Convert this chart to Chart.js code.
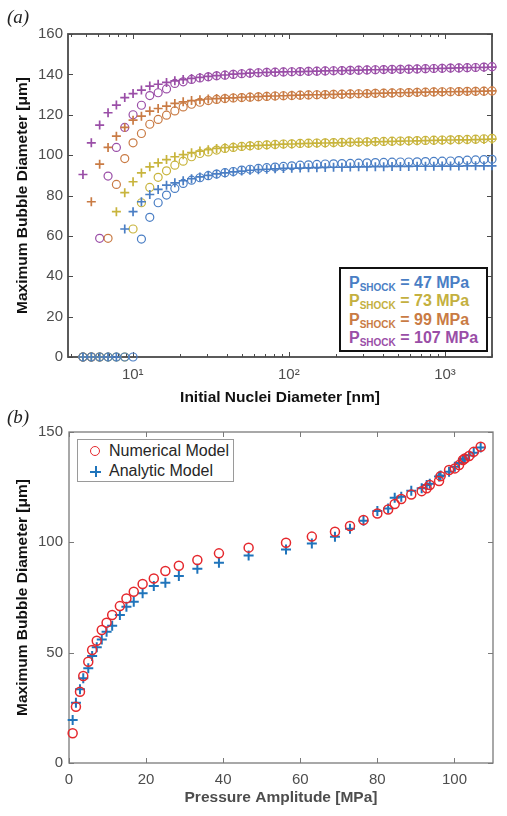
<!DOCTYPE html>
<html lang="en">
<head>
<meta charset="UTF-8">
<title>Maximum Bubble Diameter</title>
<script src="https://cdn.jsdelivr.net/npm/chart.js"></script>
<style>
  body {
    margin: 0;
    background: #ffffff;
    width: 507px;
    height: 816px;
    position: relative;
    overflow: hidden;
    font-family: "Liberation Sans", Arial, sans-serif;
  }
  canvas { position: absolute; left: 0; }
  #chartA { top: 0; }
  #chartB { top: 410px; }

  .panel {
    position: absolute;
    left: 7px;
    font-family: "Liberation Serif", serif;
    font-style: italic;
    font-size: 19px;
    color: #222;
  }

  /* P_SHOCK legend of panel (a) */
  .shock-legend {
    position: absolute;
    left: 339px;
    top: 267px;
    width: 145px;
    height: 81px;
    border: 2px solid #111;
    background: #fff;
    box-sizing: content-box;
    font-weight: bold;
    font-size: 16px;
    white-space: nowrap;
  }
  .shock-legend .row {
    position: absolute;
    left: 8px;
    height: 18px;
    line-height: 18px;
  }
  .shock-legend .sub { font-size: 10px; line-height: 10px; position: relative; top: 3px; }

  /* model legend of panel (b) */
  .model-legend {
    position: absolute;
    left: 77px;
    top: 439px;
    width: 155px;
    height: 41px;
    border: 1px solid #9a9a9a;
    background: #fff;
    font-size: 16px;
    color: #262626;
  }
  .model-legend .row { position: absolute; left: 0; height: 20px; line-height: 20px; }
  .model-legend .txt { position: absolute; left: 31px; white-space: nowrap; }
  .mk-circle {
    position: absolute; left: 12px; top: 5px;
    width: 8px; height: 8px;
    border: 1.5px solid #e5282d; border-radius: 50%;
  }
  .mk-plus { position: absolute; left: 12px; top: 5px; width: 11px; height: 11px; }
  .mk-plus::before, .mk-plus::after { content: ""; position: absolute; background: #1f74bb; }
  .mk-plus::before { left: 0; top: 4.5px; width: 11px; height: 2px; }
  .mk-plus::after { left: 4.5px; top: 0; width: 2px; height: 11px; }
</style>
</head>
<body>

<canvas id="chartA" width="507" height="410"></canvas>
<canvas id="chartB" width="507" height="406"></canvas>

<div class="panel" style="top:6px;">(a)</div>
<div class="panel" style="top:406px;">(b)</div>

<div class="shock-legend">
  <div class="row" style="top:5px;color:#4a7ec4">P<span class="sub">SHOCK</span> = 47 MPa</div>
  <div class="row" style="top:23.3px;color:#c4b040">P<span class="sub">SHOCK</span> = 73 MPa</div>
  <div class="row" style="top:41.6px;color:#c97b44">P<span class="sub">SHOCK</span> = 99 MPa</div>
  <div class="row" style="top:60px;color:#9a4ea7">P<span class="sub">SHOCK</span> = 107 MPa</div>
</div>

<div class="model-legend">
  <div class="row" style="top:1px;"><span class="mk-circle"></span><span class="txt">Numerical Model</span></div>
  <div class="row" style="top:21px;"><span class="mk-plus"></span><span class="txt">Analytic Model</span></div>
</div>

<script>
// ---------- panel (a): max bubble diameter vs initial nuclei diameter ----------
const nucleiDiameter = [4.80, 5.43, 6.14, 6.95, 7.86, 8.89, 10.05, 11.37, 12.86, 14.55,
  16.46, 18.61, 21.05, 23.81, 26.94, 30.47, 34.46, 38.98, 44.09, 49.87,
  56.41, 63.81, 72.17, 81.63, 92.34, 104.4, 118.1, 133.6, 151.1, 170.9,
  193.3, 218.7, 247.4, 279.8, 316.5, 358.0, 404.9, 458.0, 518.1, 586.0,
  662.8, 749.7, 848.0, 959.2, 1085, 1227, 1388, 1570, 1776, 2000];

// circles = numerical, plus = analytic
const num47 = [0, 0, 0, 0, 0, 0, 0, 58.4, 69.2, 76.4, 80.2, 83.5, 86.0, 87.6, 88.8, 89.8,
  90.6, 91.3, 91.9, 92.6, 93.0, 93.4, 93.8, 94.1, 94.4, 94.7, 95.0, 95.2, 95.4, 95.6,
  95.7, 95.8, 95.9, 96.0, 96.2, 96.3, 96.4, 96.5, 96.6, 96.6, 96.7, 96.8, 96.9, 97.0,
  97.1, 97.3, 97.5, 97.6, 97.8, 97.9];
const ana47 = [0, 0, 0, 0, 0, 63.4, 72.0, 76.9, 80.5, 83.0, 85.1, 86.3, 87.3, 88.3, 89.2,
  90.0, 90.7, 91.2, 91.7, 92.1, 92.5, 92.8, 93.0, 93.2, 93.4, 93.5, 93.6, 93.7, 93.8,
  93.9, 94.0, 94.0, 94.1, 94.2, 94.2, 94.3, 94.3, 94.4, 94.4, 94.4, 94.5, 94.5, 94.5,
  94.6, 94.6, 94.6, 94.7, 94.7, 94.7, 94.7];
const num73 = [0, 0, 0, 0, 0, 0, 63.4, 76.4, 84.0, 89.0, 92.2, 95.0, 97.0, 99.2, 100.8,
  101.6, 102.5, 103.3, 103.8, 104.3, 104.6, 104.9, 105.1, 105.3, 105.5, 105.6, 105.8,
  105.9, 106.0, 106.1, 106.2, 106.3, 106.4, 106.5, 106.6, 106.7, 106.8, 106.9, 107.0,
  107.1, 107.2, 107.3, 107.4, 107.5, 107.6, 107.7, 107.8, 107.9, 108.1, 108.3];
const ana73 = [0, 0, 0, 0, 72.0, 81.4, 86.8, 91.2, 94.2, 96.2, 97.8, 99.2, 100.2, 101.2,
  102.0, 102.7, 103.3, 103.7, 104.0, 104.3, 104.6, 104.8, 105.0, 105.2, 105.4, 105.5,
  105.7, 105.8, 105.9, 106.0, 106.1, 106.2, 106.3, 106.4, 106.5, 106.6, 106.7, 106.8,
  106.9, 107.0, 107.1, 107.2, 107.3, 107.4, 107.5, 107.6, 107.6, 107.7, 107.8, 107.9];
const num99 = [0, 0, 0, 58.8, 85.5, 98.3, 106.1, 110.7, 115.3, 117.7, 119.8, 121.9, 123.9,
  125.2, 126.2, 127.0, 127.6, 128.0, 128.3, 128.5, 128.7, 128.9, 129.1, 129.3, 129.4,
  129.5, 129.7, 129.8, 129.9, 130.0, 130.1, 130.2, 130.3, 130.4, 130.5, 130.6, 130.7,
  130.8, 130.9, 131.0, 131.1, 131.2, 131.3, 131.4, 131.4, 131.5, 131.6, 131.6, 131.7, 131.8];
const ana99 = [0, 76.9, 95.5, 103.8, 109.4, 113.7, 117.3, 119.3, 121.8, 123.1, 124.3, 125.6,
  126.4, 127.0, 127.4, 127.8, 128.0, 128.2, 128.4, 128.6, 128.8, 129.0, 129.2, 129.3,
  129.4, 129.6, 129.7, 129.8, 129.9, 130.0, 130.1, 130.2, 130.3, 130.4, 130.5, 130.6,
  130.7, 130.8, 130.9, 131.0, 131.1, 131.2, 131.3, 131.3, 131.4, 131.5, 131.5, 131.6, 131.7, 131.8];
const num107 = [0, 0, 58.8, 89.6, 103.8, 113.7, 120.0, 124.7, 129.5, 130.9, 132.8, 135.5,
  136.3, 137.5, 138.2, 138.8, 139.3, 139.6, 140.0, 140.3, 140.6, 140.8, 141.0, 141.1,
  141.2, 141.3, 141.4, 141.5, 141.6, 141.7, 141.8, 141.9, 142.0, 142.1, 142.2, 142.3,
  142.4, 142.5, 142.5, 142.6, 142.7, 142.8, 142.9, 143.0, 143.1, 143.2, 143.3, 143.4, 143.6, 143.8];
const ana107 = [90.4, 106.1, 114.9, 121.0, 124.8, 128.5, 130.5, 132.2, 134.2, 135.1, 136.0,
  136.8, 137.4, 138.0, 138.5, 139.0, 139.4, 139.7, 140.1, 140.4, 140.6, 140.8, 141.0,
  141.1, 141.2, 141.3, 141.4, 141.5, 141.6, 141.7, 141.8, 141.9, 142.0, 142.1, 142.2,
  142.3, 142.4, 142.4, 142.5, 142.6, 142.7, 142.8, 142.9, 143.0, 143.1, 143.2, 143.3,
  143.4, 143.5, 143.6];

const logTickValues = [4, 5, 6, 7, 8, 9, 10, 20, 30, 40, 50, 60, 70, 80, 90,
  100, 200, 300, 400, 500, 600, 700, 800, 900, 1000, 2000];
const logTickLabels = { 10: '10\u00B9', 100: '10\u00B2', 1000: '10\u00B3' };

// ---------- panel (b): max bubble diameter vs pressure amplitude ----------
const pressure = [0.95, 1.8, 2.85, 3.7, 5.0, 6.0, 7.2, 8.5, 9.75, 11.2, 13.2, 14.9, 16.8,
  19.1, 22, 25, 28.5, 33.3, 38.9, 46.6, 56.3, 63, 69, 72.9, 76.4, 80, 82.8, 84.5, 86.2,
  88.8, 91.5, 92.8, 93.6, 96, 96.4, 98.6, 100.1, 101.2, 102.2, 102.7, 103.8, 105, 106.8];
const numericalModel = [13.5, 25.5, 32.3, 39.4, 45.9, 51.2, 55.4, 60.3, 63.6, 67.1, 71.1,
  74.6, 77.6, 81.1, 83.6, 87, 89.4, 92, 95, 97.6, 99.8, 102.6, 104.8, 107.4, 110.1, 113.1,
  114.9, 117.4, 119.6, 121.7, 123.2, 124.5, 126, 127.8, 130, 132.8, 133.5, 135, 137.3,
  138, 139.1, 141, 143.3];
const analyticModel = [19.5, 27.3, 33.4, 38.4, 42.9, 48.5, 52.4, 56, 59.5, 62.2, 67.1,
  70.8, 73.1, 76.9, 80.2, 81.7, 84.7, 88, 90.8, 94, 96.7, 99.5, 102.5, 106.2, 109.8, 114.2,
  115.3, 120.2, 120.7, 123.4, 124.5, 126, 126.5, 129.8, 130.3, 132, 134.3, 136, 137.5,
  138, 139.3, 140.6, 143];

const colors = {
  p47: '#4a7ec4', p73: '#c8b43c', p99: '#c97b44', p107: '#9a4ea7',
  numerical: '#e5282d', analytic: '#1f74bb'
};

function toXY(xs, ys) {
  return xs.map((x, i) => ({ x: x, y: ys[i] }));
}

function isPow10(v) {
  const l = Math.log10(v);
  return Math.abs(l - Math.round(l)) < 1e-9;
}

// MATLAB style box with inward tick marks on all four sides
const boxTicks = {
  id: 'boxTicks',
  beforeDatasetsDraw(chart, args, opts) {
    const { ctx, chartArea: a } = chart;
    const xs = chart.scales.x, ys = chart.scales.y;
    ctx.save();
    ctx.strokeStyle = opts.color;
    ctx.lineWidth = 1;
    ctx.beginPath();
    xs.ticks.forEach(t => {
      const px = Math.round(xs.getPixelForValue(t.value)) + 0.5;
      const len = (opts.logX && !isPow10(t.value)) ? 3 : 5;
      ctx.moveTo(px, a.bottom); ctx.lineTo(px, a.bottom - len);
      ctx.moveTo(px, a.top); ctx.lineTo(px, a.top + len);
    });
    ys.ticks.forEach(t => {
      const py = Math.round(ys.getPixelForValue(t.value)) + 0.5;
      ctx.moveTo(a.left, py); ctx.lineTo(a.left + 5, py);
      ctx.moveTo(a.right, py); ctx.lineTo(a.right - 5, py);
    });
    ctx.stroke();
    ctx.lineWidth = opts.boxWidth;
    ctx.strokeRect(a.left, a.top, a.width, a.height);
    ctx.restore();
  }
};

const tickFont = { family: '"Liberation Sans", Arial, sans-serif', size: 15 };
const titleFont = { family: '"Liberation Sans", Arial, sans-serif', size: 15.5, weight: 'bold' };

function ds(label, xs, ys, color, style) {
  return {
    label: label,
    data: toXY(xs, ys),
    showLine: false,
    clip: false,
    pointStyle: style,
    pointRadius: style === 'cross' ? 4.5 : 4,
    pointHoverRadius: 4,
    pointBorderWidth: style === 'cross' ? 1.7 : 1.2,
    pointBorderColor: color,
    pointBackgroundColor: 'rgba(0,0,0,0)'
  };
}

new Chart(document.getElementById('chartA'), {
  type: 'scatter',
  data: {
    datasets: [
      ds('47 MPa numerical', nucleiDiameter, num47, colors.p47, 'circle'),
      ds('47 MPa analytic', nucleiDiameter, ana47, colors.p47, 'cross'),
      ds('73 MPa numerical', nucleiDiameter, num73, colors.p73, 'circle'),
      ds('73 MPa analytic', nucleiDiameter, ana73, colors.p73, 'cross'),
      ds('99 MPa numerical', nucleiDiameter, num99, colors.p99, 'circle'),
      ds('99 MPa analytic', nucleiDiameter, ana99, colors.p99, 'cross'),
      ds('107 MPa numerical', nucleiDiameter, num107, colors.p107, 'circle'),
      ds('107 MPa analytic', nucleiDiameter, ana107, colors.p107, 'cross')
    ]
  },
  options: {
    responsive: false,
    animation: false,
    layout: { padding: { left: 0, top: 34, right: 15, bottom: 0 } },
    plugins: {
      legend: { display: false },
      tooltip: { enabled: false },
      boxTicks: { color: '#4a4a4a', boxWidth: 1.8, logX: true }
    },
    scales: {
      x: {
        type: 'logarithmic',
        min: 3.85,
        max: 2000,
        afterBuildTicks: s => { s.ticks = logTickValues.map(v => ({ value: v })); },
        afterFit: s => { s.height = 53; },
        grid: { display: false, drawTicks: false },
        border: { display: false },
        ticks: {
          autoSkip: false, maxRotation: 0, padding: 9,
          color: '#4d4d4d', font: tickFont,
          callback: v => logTickLabels[v] || ''
        },
        title: {
          display: true, text: 'Initial Nuclei Diameter [nm]',
          color: '#111', font: titleFont, padding: { top: 0, bottom: 3 }
        }
      },
      y: {
        min: 0,
        max: 160,
        afterFit: s => { s.width = 68; },
        grid: { display: false, drawTicks: false },
        border: { display: false },
        ticks: { stepSize: 20, padding: 5, color: '#4d4d4d', font: tickFont },
        title: {
          display: true, text: 'Maximum Bubble Diameter [\u03BCm]',
          color: '#111', font: titleFont, padding: { top: 13, bottom: 0 }
        }
      }
    }
  },
  plugins: [boxTicks]
});

new Chart(document.getElementById('chartB'), {
  type: 'scatter',
  data: {
    datasets: [
      Object.assign(ds('Numerical Model', pressure, numericalModel, colors.numerical, 'circle'),
        { pointRadius: 4.5, pointBorderWidth: 1.5 }),
      Object.assign(ds('Analytic Model', pressure, analyticModel, colors.analytic, 'cross'),
        { pointRadius: 5, pointBorderWidth: 2 })
    ]
  },
  options: {
    responsive: false,
    animation: false,
    layout: { padding: { left: 0, top: 22, right: 14, bottom: 0 } },
    plugins: {
      legend: { display: false },
      tooltip: { enabled: false },
      boxTicks: { color: '#7a7a7a', boxWidth: 1.3, logX: false }
    },
    scales: {
      x: {
        min: 0,
        max: 110,
        afterFit: s => { s.height = 53; },
        grid: { display: false, drawTicks: false },
        border: { display: false },
        ticks: { stepSize: 20, includeBounds: false, maxRotation: 0, padding: 8, color: '#4d4d4d', font: tickFont },
        title: {
          display: true, text: 'Pressure Amplitude [MPa]',
          color: '#4d4d4d', font: titleFont, padding: { top: 0, bottom: 9 }
        }
      },
      y: {
        min: 0,
        max: 150,
        afterFit: s => { s.width = 69; },
        grid: { display: false, drawTicks: false },
        border: { display: false },
        ticks: { stepSize: 50, padding: 6, color: '#4d4d4d', font: tickFont },
        title: {
          display: true, text: 'Maximum Bubble Diameter [\u03BCm]',
          color: '#111', font: titleFont, padding: { top: 13, bottom: 0 }
        }
      }
    }
  },
  plugins: [boxTicks]
});
</script>
</body>
</html>
